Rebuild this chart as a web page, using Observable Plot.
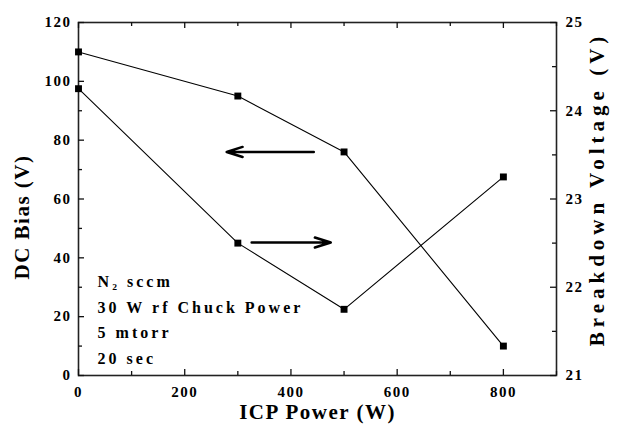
<!DOCTYPE html>
<html>
<head>
<meta charset="utf-8">
<script src="https://cdn.jsdelivr.net/npm/d3@7"></script>
<script src="https://cdn.jsdelivr.net/npm/@observablehq/plot@0.6"></script>
<style>
  html, body { margin: 0; padding: 0; background: #fff; }
  svg text { font-family: "Liberation Serif", "Times New Roman", serif; font-weight: bold; }
</style>
</head>
<body>
<div id="chart"></div>
<script>
// ---- data ----
const icpPower = [0, 300, 500, 800];
const dcBias = [110, 95, 76, 10];
const breakdownVoltage = [24.25, 22.5, 21.75, 23.25];

const xTicks = [0, 200, 400, 600, 800];
const xMinorTicks = [100, 300, 500, 700, 900];
const leftTicks = [0, 20, 40, 60, 80, 100, 120];
const leftMinorTicks = [10, 30, 50, 70, 90, 110];
const rightTicks = [21, 22, 23, 24, 25];
const rightMinorTicks = [21.5, 22.5, 23.5, 24.5];

const annotationLines = ["N\u2082 sccm", "30 W rf Chuck Power", "5 mtorr", "20 sec"];
const annotationAt = {x: 36, y: 36.2};
const arrowLeft = {x1: 443, x2: 279, y: 76};
const arrowRight = {x1: 326, x2: 475, y: 45.2};

// map right-axis values (21..25 V) onto the left scale (0..120)
const rMin = 21, rMax = 25, lMax = 120;
const toLeft = v => (v - rMin) * lMax / (rMax - rMin);

const biasData = icpPower.map((p, i) => ({p, v: dcBias[i]}));
const bdData = icpPower.map((p, i) => ({p, v: toLeft(breakdownVoltage[i])}));
const arrows = [arrowLeft, arrowRight];

const W = 624, H = 431, mL = 78, mR = 68, mT = 22, mB = 56;
const fw = W - mL - mR, fh = H - mT - mB;
const MAJ = 6, MIN = 4;
const tickFont = {fontSize: 15, fontWeight: "bold"};
const tickStyle = {stroke: "#111", strokeWidth: 1.3};

const chart = Plot.plot({
  width: W,
  height: H,
  marginLeft: mL,
  marginRight: mR,
  marginTop: mT,
  marginBottom: mB,
  style: {fontFamily: "Liberation Serif", background: "#fff"},
  x: {domain: [0, 900]},
  y: {domain: [0, 120]},
  marks: [
    Plot.frame({stroke: "#222", fill: "none", strokeWidth: 1.6}),
    // tick labels
    Plot.axisX({ticks: xTicks, tickSize: 0, tickPadding: 11, ...tickFont, label: null}),
    Plot.axisY({ticks: leftTicks, tickSize: 0, tickPadding: 7, ...tickFont, label: null}),
    Plot.axisY({anchor: "right", ticks: rightTicks.map(toLeft), tickFormat: (d, i) => rightTicks[i],
      tickSize: 0, tickPadding: 9, ...tickFont, label: null}),
    // inward ticks: bottom, top, left, right
    Plot.ruleX(xTicks, {x: d => d, insetTop: fh - MAJ, ...tickStyle}),
    Plot.ruleX(xMinorTicks, {x: d => d, insetTop: fh - MIN, ...tickStyle}),
    Plot.ruleX(xTicks, {x: d => d, insetBottom: fh - MAJ, ...tickStyle}),
    Plot.ruleX(xMinorTicks, {x: d => d, insetBottom: fh - MIN, ...tickStyle}),
    Plot.ruleY(leftTicks, {y: d => d, insetRight: fw - MAJ, ...tickStyle}),
    Plot.ruleY(leftMinorTicks, {y: d => d, insetRight: fw - MIN, ...tickStyle}),
    Plot.ruleY(rightTicks, {y: d => toLeft(d), insetLeft: fw - MAJ, ...tickStyle}),
    Plot.ruleY(rightMinorTicks, {y: d => toLeft(d), insetLeft: fw - MIN, ...tickStyle}),
    // axis titles
    Plot.text(["DC Bias (V)"], {frameAnchor: "left", textAnchor: "middle", lineAnchor: "middle",
      dx: -56, dy: 18, rotate: -90, fontSize: 21, fontWeight: "bold", fill: "#000"}),
    Plot.text(["Breakdown Voltage (V)"], {frameAnchor: "right", textAnchor: "middle", lineAnchor: "middle",
      dx: 41, dy: -10, rotate: -90, fontSize: 21, fontWeight: "bold", fill: "#000"}),
    Plot.text(["ICP Power (W)"], {frameAnchor: "bottom", textAnchor: "middle", lineAnchor: "middle",
      dy: 37, fontSize: 21, fontWeight: "bold", fill: "#000"}),
    // series
    Plot.line(biasData, {x: "p", y: "v", stroke: "#000", strokeWidth: 1.1}),
    Plot.dot(biasData, {x: "p", y: "v", symbol: "square", r: 3.9, fill: "#000"}),
    Plot.line(bdData, {x: "p", y: "v", stroke: "#000", strokeWidth: 1.1}),
    Plot.dot(bdData, {x: "p", y: "v", symbol: "square", r: 3.9, fill: "#000"}),
    // arrows
    Plot.arrow(arrows, {x1: "x1", x2: "x2", y1: "y", y2: "y", stroke: "#000", strokeWidth: 2.5, headLength: 10, headAngle: 35}),
    // annotation
    Plot.text([annotationLines.join("\n")], {x: annotationAt.x, y: annotationAt.y, textAnchor: "start", lineAnchor: "top",
      lineHeight: 1.6, fontSize: 16, fontWeight: "bold", fill: "#000"})
  ]
});

document.getElementById("chart").appendChild(chart);

// letter spacing to match the wide-set serif lettering
const svg = d3.select(chart);
svg.selectAll("[aria-label$='tick label'] text").style("letter-spacing", "1.5px");
svg.selectAll("[aria-label='text'] text").each(function() {
  const t = this.textContent;
  let ls = "3px";
  if (t.startsWith("Breakdown")) ls = "5px";
  else if (t.startsWith("DC") || t.startsWith("ICP")) ls = "1.5px";
  d3.select(this).style("letter-spacing", ls);
});
</script>
</body>
</html>
